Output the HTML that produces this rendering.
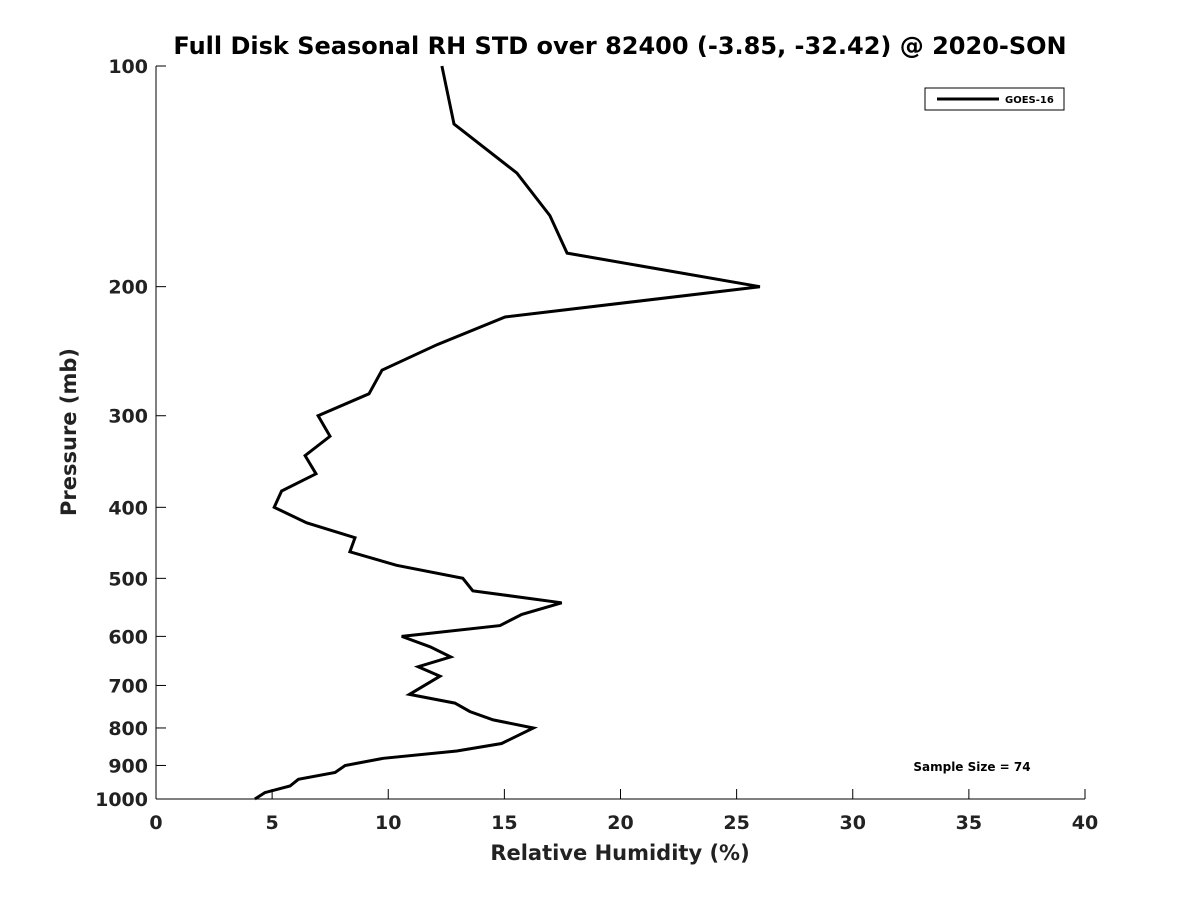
<!DOCTYPE html>
<html><head><meta charset="utf-8"><style>
body{margin:0;background:#fff;}
text{font-family:"DejaVu Sans","Liberation Sans",sans-serif;font-weight:bold;fill:#222;}
</style></head><body>
<svg id="chart" width="1200" height="900" xmlns="http://www.w3.org/2000/svg">
<rect width="1200" height="900" fill="#fff"/>
<text x="620" y="54" text-anchor="middle" font-size="24" style="fill:#000">Full Disk Seasonal RH STD over 82400 (-3.85, -32.42) @ 2020-SON</text>
<g id="axes"></g>
<g id="series"></g>
<g>
<rect x="925" y="88" width="139" height="22" fill="#fff" stroke="#000" stroke-width="1"/>
<line x1="937" y1="99" x2="999" y2="99" stroke="#000" stroke-width="3"/>
<text x="1005" y="103" font-size="10" style="fill:#000">GOES-16</text>
</g>
<text x="972" y="771" text-anchor="middle" font-size="12" style="fill:#000">Sample Size = 74</text>
<text x="620" y="860" text-anchor="middle" font-size="21">Relative Humidity (%)</text>
<text transform="translate(76,432) rotate(-90)" text-anchor="middle" font-size="21">Pressure (mb)</text>
</svg>
<script>
const pressures=[100,120,140,160,180,200,220,240,260,280,300,320,340,360,380,400,420,440,460,480,500,520,540,560,580,600,620,640,660,680,720,740,760,780,800,840,860,880,900,920,940,960,980,1000];
const rhStd=[12.31,12.83,15.54,16.96,17.70,26.0,15.03,12.1,9.73,9.17,6.98,7.49,6.42,6.89,5.41,5.09,6.49,8.57,8.35,10.36,13.21,13.64,17.47,15.75,14.81,10.58,11.80,12.69,11.29,12.23,10.91,12.87,13.52,14.52,16.25,14.88,12.95,9.79,8.14,7.71,6.13,5.77,4.69,4.26];
const xTicks=[0,5,10,15,20,25,30,35,40];
const yTicks=[100,200,300,400,500,600,700,800,900,1000];
const L=156,R=1085,T=66,B=799;
const xs=v=>L+(v-0)/(40-0)*(R-L);
const ys=p=>T+(Math.log10(p)-2)*(B-T);
const NS='http://www.w3.org/2000/svg';
const ax=document.getElementById('axes');
function mk(tag,attrs,parent){const e=document.createElementNS(NS,tag);for(const k in attrs)e.setAttribute(k,attrs[k]);parent.appendChild(e);return e;}
let a=mk('line',{x1:L,y1:T,x2:L,y2:B,stroke:'#000','stroke-width':1},ax);


a=mk('line',{x1:L,y1:B,x2:R,y2:B,stroke:'#000','stroke-width':1},ax);


xTicks.forEach(v=>{
 const t=mk('line',{x1:xs(v),y1:B,x2:xs(v),y2:B-10,stroke:'#000'},ax);
 
 
 const l=mk('text',{x:xs(v),y:B+30,'text-anchor':'middle','font-size':19},ax);
 l.textContent=v;
 
 
});
yTicks.forEach(p=>{
 const t=mk('line',{x1:L,y1:ys(p),x2:L+10,y2:ys(p),stroke:'#000'},ax);
 
 
 const l=mk('text',{x:L-8,y:ys(p)+7,'text-anchor':'end','font-size':19},ax);
 l.textContent=p;
 
 
});
const pts=pressures.map((p,i)=>xs(rhStd[i]).toFixed(1)+','+ys(p).toFixed(1)).join(' ');
const pl=mk('polyline',{points:pts,fill:'none',stroke:'#000','stroke-width':3,'stroke-linejoin':'miter'},document.getElementById('series'));


</script>
</body></html>
